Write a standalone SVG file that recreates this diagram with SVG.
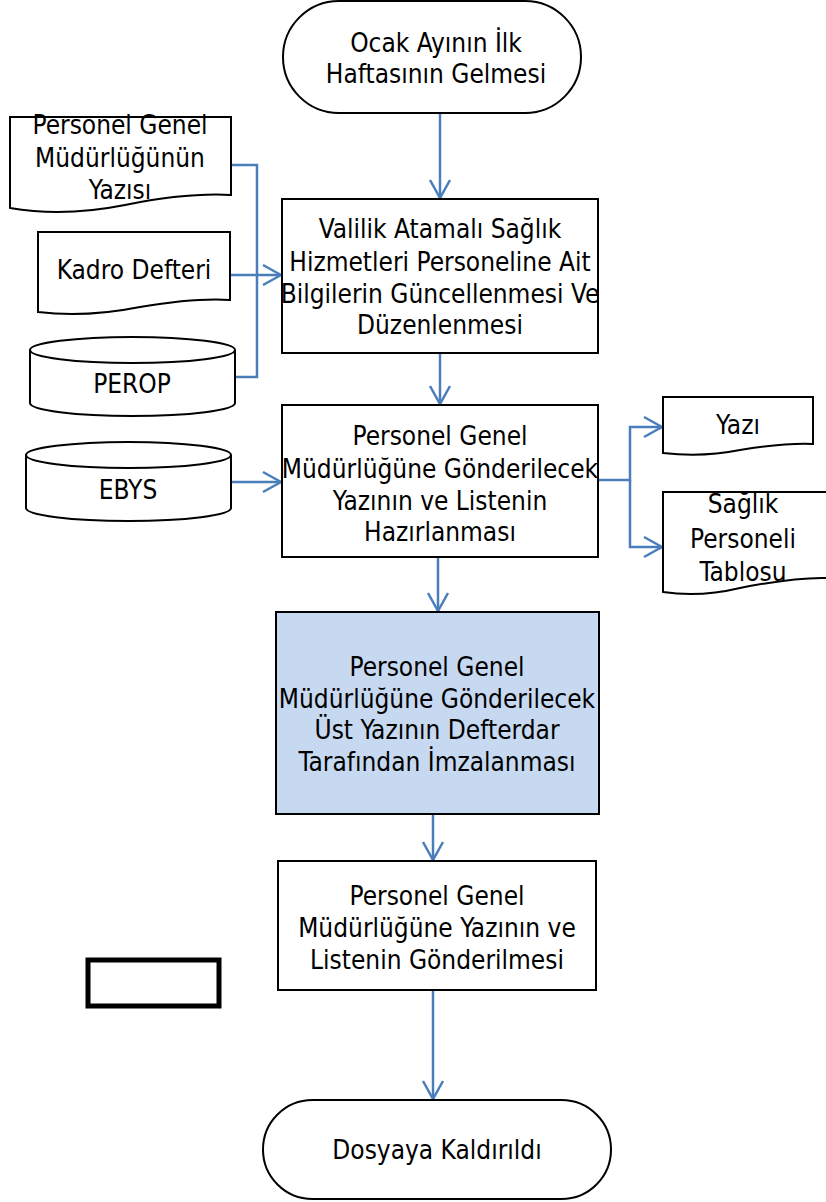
<svg xmlns="http://www.w3.org/2000/svg" width="826" height="1202" viewBox="0 0 826 1202">
<defs>
<style>
.s{fill:#fff;stroke:#000;stroke-width:2}
.t{font-family:"DejaVu Sans Condensed","DejaVu Sans",sans-serif;font-stretch:condensed;font-size:26px;fill:#000;text-anchor:middle}
.c{fill:none;stroke:#4A7EBB;stroke-width:2.5}
</style>
<marker id="a" viewBox="0 0 24 24" refX="22" refY="12" markerWidth="24" markerHeight="24" markerUnits="userSpaceOnUse" orient="auto">
<path d="M4,2 L22,12 L4,22" fill="none" stroke="#4A7EBB" stroke-width="2.5"/>
</marker>
</defs>
<rect width="826" height="1202" fill="#fff"/>
<g id="connectors">
<path class="c" d="M440,113 V198" marker-end="url(#a)"/>
<path class="c" d="M440,353 V404" marker-end="url(#a)"/>
<path class="c" d="M438,557 V611" marker-end="url(#a)"/>
<path class="c" d="M433,814 V860" marker-end="url(#a)"/>
<path class="c" d="M433,990 V1099" marker-end="url(#a)"/>
<path class="c" d="M231,165 H257 V377 H235"/>
<path class="c" d="M230,275 H281" marker-end="url(#a)"/>
<path class="c" d="M231,482 H281" marker-end="url(#a)"/>
<path class="c" d="M598,480 H630 V427 H662" marker-end="url(#a)"/>
<path class="c" d="M630,480 V547 H662" marker-end="url(#a)"/>
</g>
<g id="start">
<rect class="s" x="283" y="1" width="298" height="112" rx="56"/>
<text class="t" x="436" y="52">Ocak Ayının İlk</text>
<text class="t" x="436" y="83">Haftasının Gelmesi</text>
</g>
<g id="doc1">
<path class="s" d="M10,117 H231 V195 C195,193 160,198 125,205 C85,213 45,214 10,208 Z"/>
<text class="t" x="120" y="134">Personel Genel</text>
<text class="t" x="120" y="167">Müdürlüğünün</text>
<text class="t" x="120" y="199">Yazısı</text>
</g>
<g id="doc2">
<path class="s" d="M38,232 H230 V300 C200,298 170,302 140,307 C105,314 70,316 38,312 Z"/>
<text class="t" x="134" y="279">Kadro Defteri</text>
</g>
<g id="perop">
<path class="s" d="M30,350 A102.5,13 0 0 1 235,350 V403 A102.5,13 0 0 1 30,403 Z"/>
<path class="s" d="M30,350 A102.5,13 0 0 0 235,350" fill="none"/>
<text class="t" x="132" y="393">PEROP</text>
</g>
<g id="ebys">
<path class="s" d="M26,455 A102.5,13 0 0 1 231,455 V508 A102.5,13 0 0 1 26,508 Z"/>
<path class="s" d="M26,455 A102.5,13 0 0 0 231,455" fill="none"/>
<text class="t" x="128" y="499">EBYS</text>
</g>
<g id="box1">
<rect class="s" x="282" y="199" width="316" height="154"/>
<text class="t" x="440" y="238">Valilik Atamalı Sağlık</text>
<text class="t" x="440" y="271">Hizmetleri Personeline Ait</text>
<text class="t" x="440" y="303">Bilgilerin Güncellenmesi Ve</text>
<text class="t" x="440" y="334">Düzenlenmesi</text>
</g>
<g id="box2">
<rect class="s" x="282" y="405" width="316" height="152"/>
<text class="t" x="440" y="445">Personel Genel</text>
<text class="t" x="440" y="478">Müdürlüğüne Gönderilecek</text>
<text class="t" x="440" y="510">Yazının ve Listenin</text>
<text class="t" x="440" y="541">Hazırlanması</text>
</g>
<g id="yazi">
<path class="s" d="M663,397 H813 V444 C790,443 765,446 740,450 C715,455 690,456 663,453 Z"/>
<text class="t" x="738" y="434">Yazı</text>
</g>
<g id="tablo">
<path class="s" d="M663,492 H828 V578 C800,577 770,582 740,588 C715,594 690,596 663,592 Z"/>
<text class="t" x="743" y="513">Sağlık</text>
<text class="t" x="743" y="548">Personeli</text>
<text class="t" x="743" y="581">Tablosu</text>
</g>
<g id="box3">
<rect x="276" y="612" width="323" height="202" fill="#C6D9F1" stroke="#000" stroke-width="2"/>
<text class="t" x="437" y="676">Personel Genel</text>
<text class="t" x="437" y="708">Müdürlüğüne Gönderilecek</text>
<text class="t" x="437" y="739">Üst Yazının Defterdar</text>
<text class="t" x="437" y="771">Tarafından İmzalanması</text>
</g>
<g id="box4">
<rect class="s" x="278" y="861" width="318" height="129"/>
<text class="t" x="437" y="905">Personel Genel</text>
<text class="t" x="437" y="937">Müdürlüğüne Yazının ve</text>
<text class="t" x="437" y="969">Listenin Gönderilmesi</text>
</g>
<g id="blank">
<rect x="88" y="960" width="131" height="46" fill="#fff" stroke="#000" stroke-width="5"/>
</g>
<g id="end">
<rect class="s" x="263" y="1100" width="348" height="99" rx="49.5"/>
<text class="t" x="437" y="1159">Dosyaya Kaldırıldı</text>
</g>
</svg>
